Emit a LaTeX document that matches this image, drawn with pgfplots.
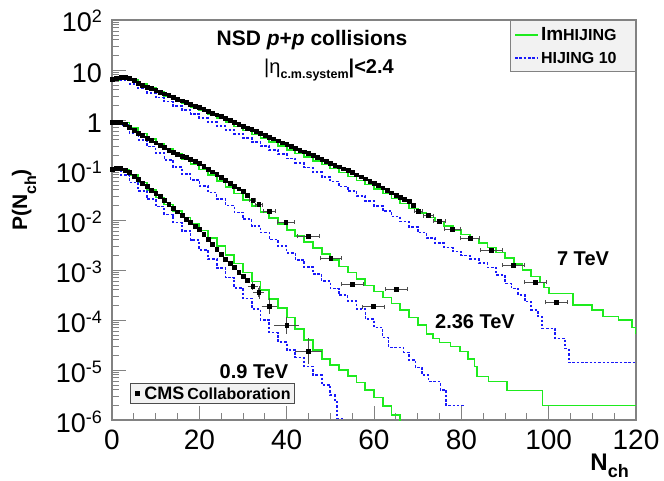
\documentclass[border=0pt]{standalone}
\usepackage{fontspec}
\setmainfont{Liberation Sans}
\usepackage{pgfplots}
\pgfplotsset{compat=1.18}
\definecolor{rootgreen}{RGB}{30,235,30}
\definecolor{rootblue}{RGB}{25,25,250}
\definecolor{framegray}{RGB}{130,130,130}
\newcommand{\ex}[1]{\raisebox{9pt}{\fontsize{18}{18}\selectfont #1}}
\begin{document}
\begin{tikzpicture}
\begin{axis}[
  name=ax, at={(0,0)}, anchor=south west,
  scale only axis, width=524pt, height=400pt,
  xmin=0, xmax=120, ymin=1e-6, ymax=1e2, ymode=log,
  axis line style={draw=framegray, line width=1.1pt},
  tick align=inside, xtick pos=left, ytick pos=left,
  major tick length=14pt, minor tick length=7pt,
  every tick/.style={draw=framegray, line width=0.9pt},
  xtick={0,20,40,60,80,100,120},
  xticklabels={0,20,40,60,80,100,120},
  minor xtick={5,10,15,25,30,35,45,50,55,65,70,75,85,90,95,105,110,115},
  ytick={1e-6,1e-5,1e-4,1e-3,1e-2,1e-1,1,10,100},
  yticklabels={10\ex{-6},10\ex{-5},10\ex{-4},10\ex{-3},10\ex{-2},10\ex{-1},1,10,10\ex{2}},
  minor ytick={2e-6,3e-6,4e-6,5e-6,6e-6,7e-6,8e-6,9e-6,
               2e-5,3e-5,4e-5,5e-5,6e-5,7e-5,8e-5,9e-5,
               2e-4,3e-4,4e-4,5e-4,6e-4,7e-4,8e-4,9e-4,
               2e-3,3e-3,4e-3,5e-3,6e-3,7e-3,8e-3,9e-3,
               0.02,0.03,0.04,0.05,0.06,0.07,0.08,0.09,
               0.2,0.3,0.4,0.5,0.6,0.7,0.8,0.9,
               2,3,4,5,6,7,8,9,20,30,40,50,60,70,80,90},
  xticklabel style={font=\fontsize{28}{28}\selectfont, anchor=base, inner sep=0pt, yshift=-29.5pt},
  yticklabel style={font=\fontsize{27}{27}\selectfont, anchor=base east, inner sep=0pt, xshift=-10pt, yshift=-12pt},
  xlabel={N\raisebox{-7pt}{\fontsize{18}{18}\selectfont ch}},
  xlabel style={font=\fontsize{24}{24}\selectfont\bfseries, at={(axis description cs:0.9866,-0.125)}, anchor=base east, inner sep=0pt},
  ylabel={P(N\raisebox{-9pt}{\fontsize{16}{16}\selectfont ch})},
  ylabel style={font=\fontsize{21}{21}\selectfont\bfseries, at={(axis description cs:-0.1622,0.55)}, anchor=base, inner sep=0pt},
  legend style={at={(axis description cs:1,1)}, anchor=north east, draw=framegray, fill=gray!10, line width=0.8pt,
                inner xsep=4pt, inner ysep=5pt, row sep=6pt, font=\fontsize{16}{16}\selectfont\bfseries},
  legend cell align=left,
  legend image code/.code={\draw[#1] (0pt,0pt) -- (23pt,0pt);},
]
% ---------- ImHIJING 7 TeV
\addplot[const plot, color=rootgreen, line width=1.8pt] coordinates {
(0,6.166)(2,6.607)(4,6.310)(6,5.248)(8,4.365)(10,3.631)(12,3.020)(14,2.570)(16,2.188)(18,1.820)
(20,1.549)(22,1.288)(24,1.096)(26,0.9120)(28,0.7413)(30,0.6166)(32,0.5129)(34,0.4365)(36,0.3631)(38,0.3020)
(40,0.2512)(42,0.2138)(44,0.1820)(46,0.1514)(48,0.1288)(50,0.1072)(52,8.913e-2)(54,7.413e-2)(56,6.166e-2)(58,5.129e-2)
(60,4.169e-2)(62,3.388e-2)(64,2.692e-2)(66,2.138e-2)(68,1.698e-2)(70,1.380e-2)(72,1.122e-2)(74,9.333e-3)(76,7.586e-3)(78,6.310e-3)
(80,5.129e-3)(82,4.266e-3)(84,3.467e-3)(86,2.818e-3)(88,2.239e-3)(90,1.738e-3)(92,1.318e-3)(94,1.000e-3)(96,7.413e-4)(98,5.623e-4)
(99,4.467e-4)(100,3.388e-4)(105.5,1.995e-4)(110,1.585e-4)(112.5,1.175e-4)(116,1.000e-4)(119,7.079e-5)(120,5.370e-5)};
\addlegendentry{{\fontsize{19}{19}\selectfont Im}HIJING}
% ---------- HIJING 10 7 TeV
\addplot[const plot, color=rootblue, line width=1.8pt, dash pattern=on 2.5pt off 1.8pt] coordinates {
(0,6.607)(2,6.310)(4,5.248)(6,4.266)(8,3.467)(10,2.818)(12,2.344)(14,1.905)(16,1.585)(18,1.318)
(20,1.096)(22,0.9120)(24,0.7586)(26,0.6310)(28,0.5248)(30,0.4365)(32,0.3631)(34,0.3020)(36,0.2512)(38,0.2089)
(40,0.1698)(42,0.1380)(44,0.1122)(46,9.120e-2)(48,7.244e-2)(50,5.888e-2)(52,4.677e-2)(54,3.802e-2)(56,3.020e-2)(58,2.399e-2)
(60,1.905e-2)(62,1.514e-2)(64,1.175e-2)(66,9.333e-3)(68,7.244e-3)(70,5.623e-3)(72,4.365e-3)(74,3.467e-3)(76,2.818e-3)(78,2.344e-3)
(80,1.950e-3)(82,1.660e-3)(84,1.380e-3)(86,1.122e-3)(88,7.943e-4)(90,5.370e-4)(91.5,4.266e-4)(93,3.162e-4)(94.5,2.344e-4)(96,1.585e-4)
(97.5,1.175e-4)(98.5,6.761e-5)(101.5,4.266e-5)(103.8,2.692e-5)(104.6,1.413e-5)(120,1.413e-5)};
\addlegendentry{HIJING 10\hspace*{13pt}}
% ---------- ImHIJING 2.36 TeV
\addplot[const plot, color=rootgreen, line width=1.8pt, forget plot] coordinates {
(0,0.9120)(2,0.8913)(4,0.7079)(6,0.5370)(8,0.4169)(10,0.3311)(12,0.2630)(14,0.2089)(16,0.1660)(18,0.1318)
(20,0.1023)(22,7.943e-2)(24,6.026e-2)(26,4.571e-2)(28,3.388e-2)(30,2.512e-2)(32,1.905e-2)(34,1.445e-2)(36,1.096e-2)(38,8.318e-3)
(40,6.310e-3)(42,4.786e-3)(44,3.631e-3)(46,2.754e-3)(48,2.089e-3)(50,1.585e-3)(52,1.175e-3)(54,8.913e-4)(56,6.607e-4)(58,4.898e-4)
(60,3.715e-4)(62,2.818e-4)(64,2.138e-4)(66,1.585e-4)(68,1.122e-4)(70,7.943e-5)(72,5.248e-5)(73.5,4.266e-5)(75,3.548e-5)(77.5,2.951e-5)
(79.7,2.344e-5)(81.5,1.660e-5)(83,1.175e-5)(83.6,7.413e-6)(86.2,5.888e-6)(90.4,3.890e-6)(98.6,1.950e-6)(120,1.950e-6)};
% ---------- HIJING 10 2.36 TeV
\addplot[const plot, color=rootblue, line width=1.3pt, dash pattern=on 2.5pt off 1.8pt, forget plot] coordinates {
(0,0.8913)(2,0.7943)(4,0.5495)(6,0.3981)(8,0.2951)(10,0.2188)(12,0.1585)(14,0.1148)(16,8.318e-2)(18,6.310e-2)
(20,4.786e-2)(22,3.548e-2)(24,2.630e-2)(26,1.950e-2)(28,1.413e-2)(30,1.047e-2)(32,7.586e-3)(34,5.623e-3)(36,4.074e-3)(38,3.020e-3)
(40,2.188e-3)(42,1.585e-3)(44,1.148e-3)(46,8.318e-4)(48,6.026e-4)(50,4.266e-4)(52,3.162e-4)(54,2.399e-4)(56,1.660e-4)(58,1.047e-4)
(60,7.079e-5)(62,4.467e-5)(63.4,2.818e-5)(66.8,2.239e-5)(68,1.585e-5)(69.5,1.122e-5)(71,7.943e-6)(72.5,5.888e-6)(75.2,3.981e-6)(76.5,1.950e-6)
(80.9,1.950e-6)};
% ---------- ImHIJING 0.9 TeV
\addplot[const plot, color=rootgreen, line width=1.8pt, forget plot] coordinates {
(0,0.1000)(2,0.1000)(4,7.943e-2)(6,5.623e-2)(8,3.981e-2)(10,2.818e-2)(12,2.042e-2)(14,1.514e-2)(16,1.122e-2)(18,8.318e-3)
(20,6.166e-3)(22,4.365e-3)(24,3.020e-3)(26,1.995e-3)(28,1.349e-3)(30,8.913e-4)(32,5.888e-4)(34,3.981e-4)(36,2.630e-4)(38,1.738e-4)
(40,1.122e-4)(42,6.607e-5)(44,3.981e-5)(46,2.512e-5)(48,1.660e-5)(50,1.259e-5)(52,1.000e-5)(54,7.586e-6)(56,5.623e-6)(58,3.981e-6)
(60,2.818e-6)(62,1.905e-6)(64,1.259e-6)(66,8.913e-7)};
% ---------- HIJING 10 0.9 TeV
\addplot[const plot, color=rootblue, line width=1.8pt, dash pattern=on 2.5pt off 1.8pt, forget plot] coordinates {
(0,0.1000)(2,7.943e-2)(4,5.623e-2)(6,3.802e-2)(8,2.630e-2)(10,1.862e-2)(12,1.288e-2)(14,8.913e-3)(16,6.026e-3)(18,3.981e-3)
(20,2.512e-3)(22,1.660e-3)(24,1.096e-3)(26,7.079e-4)(28,4.365e-4)(30,2.692e-4)(32,1.660e-4)(34,1.000e-4)(36,5.623e-5)(38,3.631e-5)
(40,2.512e-5)(42,1.778e-5)(44,1.175e-5)(46,7.943e-6)(48,5.012e-6)(50,3.162e-6)(51,2.512e-6)(51.5,1.072e-6)(53,1.000e-6)};
% ---------- CMS 7 TeV
\addplot[only marks, mark=square*, mark size=1.9pt, black, forget plot] coordinates {
(0,6.61)(1,6.92)(2,7.24)(3,7.24)(4,6.76)(5,6.17)(6,5.50)(7,5.01)(8,4.57)(9,4.27)(10,3.98)(11,3.66)(12,3.37)(13,3.10)(14,2.86)
(15,2.63)(16,2.43)(17,2.25)(18,2.08)(19,1.92)(20,1.78)(21,1.64)(22,1.51)(23,1.39)(24,1.28)(25,1.175)(26,1.076)(27,0.986)(28,0.903)(29,0.828)
(30,0.759)(31,0.698)(32,0.643)(33,0.592)(34,0.545)(35,0.501)(36,0.459)(37,0.421)(38,0.385)(39,0.353)(40,0.324)(41,0.298)(42,0.274)(43,0.252)(44,0.232)
(45,0.214)(46,0.196)(47,0.179)(48,0.164)(49,0.151)(50,0.138)(51,0.126)(52,0.116)(53,0.106)(54,0.0973)(55,0.0891)(56,0.0809)(57,0.0735)(58,0.0667)(59,0.0605)
(60,0.0550)(61,0.0492)(62,0.0441)(63,0.0394)(64,0.0353)(65,0.0316)(66,0.0288)(67,0.0263)(68,0.0234)(69,0.0200)};
\addplot[only marks, mark=square*, mark size=1.9pt, black, forget plot,
  error bars/.cd, x dir=both, x explicit, error bar style={line width=0.6pt, black!70}, error mark options={rotate=90, mark size=2pt, black!70}] coordinates {
(70.1,0.0151) +- (1,0) (72.4,0.0123) +- (1.2,0) (74.9,0.00955) +- (1.3,0) (77.9,0.00661) +- (1.8,0) (82,0.00427) +- (2.2,0)
(86.8,0.00251) +- (2.5,0) (91.9,0.00126) +- (2.5,0) (97,0.000575) +- (2.5,0) (101.8,0.000224) +- (2.5,0)};
% ---------- CMS 2.36 TeV
\addplot[only marks, mark=square*, mark size=1.9pt, black, forget plot] coordinates {
(0,0.891)(1,0.912)(2,0.912)(3,0.832)(4,0.708)(5,0.617)(6,0.543)(7,0.490)(8,0.437)(9,0.389)(10,0.351)(11,0.316)(12,0.282)(13,0.251)(14,0.224)(15,0.204)
(16,0.191)(17,0.178)(18,0.166)(19,0.151)(20,0.135)(21,0.117)(22,0.105)(23,0.0923)(24,0.0813)(25,0.0708)(26,0.0617)(27,0.0537)(28,0.0479)(29,0.0422)(30,0.0372)(31,0.0309)};
\addplot[only marks, mark=square*, mark size=1.9pt, black, forget plot,
  error bars/.cd, x dir=both, x explicit, error bar style={line width=0.6pt, black!70}, error mark options={rotate=90, mark size=2pt, black!70}] coordinates {
(32.2,0.0251) +- (0.7,0) (33.6,0.0204) +- (0.8,0) (36,0.0151) +- (1.3,0) (39.8,0.00912) +- (2,0) (45,0.00468) +- (2.5,0)
(50.1,0.0017) +- (2.5,0) (55,0.000513) +- (2.5,0) (59.9,0.000186) +- (2.5,0) (65,0.000417) +- (2.5,0)};
% ---------- CMS 0.9 TeV
\addplot[only marks, mark=square*, mark size=1.9pt, black, forget plot] coordinates {
(0,0.102)(1,0.107)(2,0.107)(3,0.100)(4,0.0891)(5,0.0759)(6,0.0646)(7,0.0550)(8,0.0468)(9,0.0398)(10,0.0343)(11,0.0295)(12,0.0248)(13,0.0209)(14,0.0174)(15,0.0146)
(16,0.0123)(17,0.0105)(18,0.00891)(19,0.00759)(20,0.00646)(21,0.00525)(22,0.00417)(23,0.00331)(24,0.00257)(25,0.00204)(26,0.00166)(27,0.00138)(28,0.00112)(29,0.000912)(30,0.000759)(31,0.000617)};
\addplot[only marks, mark=square*, mark size=1.9pt, black, forget plot,
  error bars/.cd, x dir=both, x explicit, y dir=both, y explicit, error bar style={line width=0.6pt, black!70}, error mark options={mark size=2pt, black!70}] coordinates {
(32.2,0.000479) += (0.7,0.00005) -= (0.7,0.00004)
(33.6,0.000355) += (0.8,0.000072) -= (0.8,0.00006)
(36,0.000191) += (1.3,0.000061) -= (1.3,0.000046)
(40,0.0000776) += (2.4,0.000027) -= (2.4,0.00002)
(45,0.000024) += (2.6,0.0000158) -= (2.6,0.0000095)};
% ---------- texts
\node[font=\fontsize{21}{21}\selectfont\bfseries] at (axis description cs:0.3817,0.95) {NSD \textit{p}+\textit{p} collisions};
\node[font=\fontsize{20}{20}\selectfont] at (axis description cs:0.4141,0.875) {|η\raisebox{-5pt}{\fontsize{12.5}{12.5}\selectfont\bfseries c.m.system}\textbf{|<2.4}};
\node[font=\fontsize{20}{20}\selectfont\bfseries] at (axis description cs:0.8989,0.4025) {7 TeV};
\node[font=\fontsize{20}{20}\selectfont\bfseries] at (axis description cs:0.6927,0.245) {2.36 TeV};
\node[font=\fontsize{20}{20}\selectfont\bfseries] at (axis description cs:0.271,0.12) {0.9 TeV};
\end{axis}
\begin{axis}[
  name=ax2, at={(0,0)}, anchor=south west,
  scale only axis, width=524pt, height=400pt,
  hide axis, xmin=0, xmax=1, ymin=0, ymax=1,
  legend style={at={(axis description cs:0.0344,0.04)}, anchor=south west, draw=black!70, fill=gray!10,
                line width=0.8pt, inner xsep=2pt, inner ysep=1pt, font=\bfseries},
  legend image code/.code={\path[draw=none, fill=none] (0pt,-3pt) rectangle (10pt,3pt); \draw[#1] plot coordinates {(5pt,0pt)};},
]
\addlegendimage{only marks, mark=square*, mark size=1.9pt, black}
\addlegendentry{{\fontsize{18}{18}\selectfont CMS}\hspace{3pt}{\fontsize{16}{16}\selectfont Collaboration}}
\end{axis}
\pgfresetboundingbox
\path[use as bounding box] ([shift={(-112pt,-61pt)}]ax.south west) rectangle ([shift={(28pt,20pt)}]ax.north east);
\end{tikzpicture}
\end{document}
